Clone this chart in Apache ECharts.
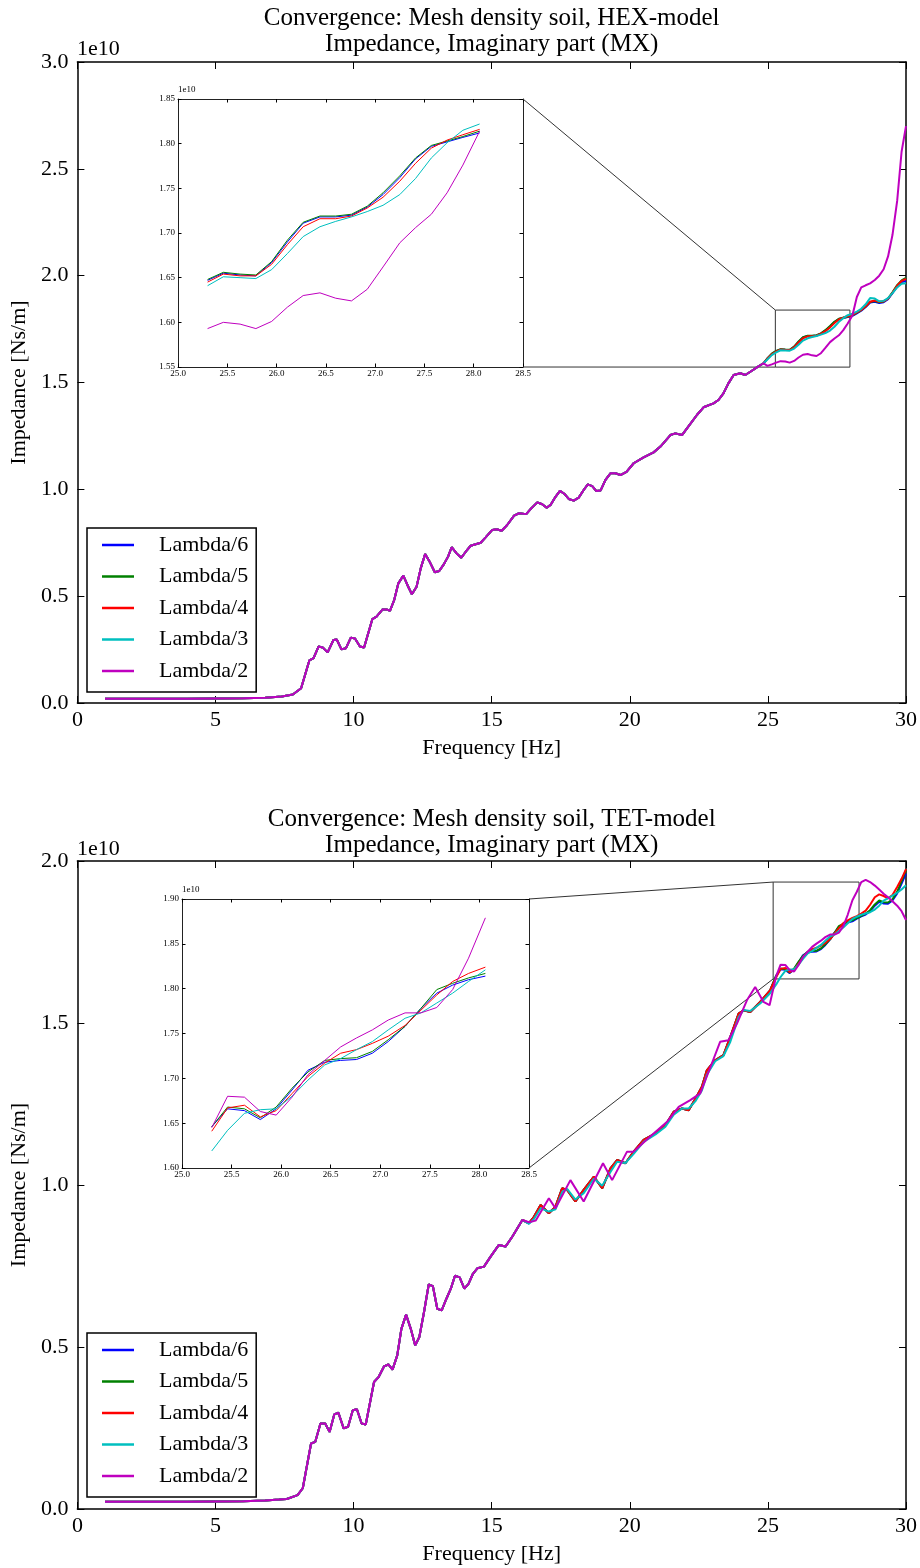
<!DOCTYPE html>
<html>
<head>
<meta charset="utf-8">
<script src="https://cdn.jsdelivr.net/npm/echarts@6/dist/echarts.min.js"></script>
<style>
  html, body { margin: 0; padding: 0; background: #fff; }
  #chart { width: 920px; height: 1568px; }
</style>
</head>
<body>
<div id="chart"></div>
<script>
// impedance values are in units of 1e10 Ns/m, frequency in Hz
const seriesNames = ['Lambda/6', 'Lambda/5', 'Lambda/4', 'Lambda/3', 'Lambda/2'];
const lineColors = ['#0000ff', '#008000', '#ff0000', '#00bfbf', '#bf00bf'];

const xTicks = [0, 30, 5];
const hexYTicks = [0, 3, 0.5];
const tetYTicks = [0, 2, 0.5];
const insetXTicks = [25, 28.5, 0.5];
const hexInsetYTicks = [1.55, 1.85, 0.05];
const tetInsetYTicks = [1.6, 1.9, 0.05];
const insetRange = [25.30, 28.06];

// ---------- HEX model ----------
const hexCommonFreq = [1.0, 2.0, 3.0, 4.0, 5.0, 6.0, 6.8, 7.4, 7.8, 8.1, 8.4, 8.55, 8.73, 8.88, 9.06, 9.27, 9.39, 9.56, 9.72, 9.90,
  10.05, 10.23, 10.38, 10.68, 10.83, 11.05, 11.19, 11.32, 11.47, 11.62, 11.80, 11.96, 12.11, 12.28, 12.43, 12.59, 12.77, 12.94, 13.10, 13.27,
  13.42, 13.55, 13.73, 13.90, 14.06, 14.24, 14.42, 14.60, 14.78, 15.02, 15.18, 15.36, 15.56, 15.81, 15.99, 16.25, 16.43, 16.65, 16.83, 16.99,
  17.13, 17.31, 17.47, 17.64, 17.79, 17.97, 18.15, 18.33, 18.48, 18.64, 18.79, 18.94, 19.12, 19.30, 19.48, 19.66, 19.88, 20.14, 20.50, 20.86,
  21.11, 21.47, 21.65, 21.89, 22.07, 22.43, 22.67, 23.03, 23.21, 23.39, 23.57, 23.76, 24.00, 24.18, 24.42, 24.60, 24.84];
const hexCommon = [0.020, 0.020, 0.020, 0.020, 0.021, 0.022, 0.025, 0.030, 0.040, 0.069, 0.200, 0.210, 0.264, 0.260, 0.237, 0.295, 0.297, 0.251, 0.256, 0.306,
  0.302, 0.264, 0.260, 0.393, 0.404, 0.438, 0.438, 0.432, 0.482, 0.560, 0.596, 0.549, 0.509, 0.544, 0.630, 0.697, 0.657, 0.612, 0.618, 0.650,
  0.685, 0.729, 0.700, 0.680, 0.708, 0.736, 0.743, 0.750, 0.775, 0.810, 0.813, 0.806, 0.833, 0.877, 0.888, 0.884, 0.911, 0.939, 0.930, 0.914,
  0.927, 0.965, 0.993, 0.978, 0.955, 0.947, 0.961, 0.997, 1.023, 1.015, 0.992, 0.994, 1.044, 1.075, 1.075, 1.067, 1.082, 1.122, 1.150, 1.173,
  1.200, 1.254, 1.262, 1.254, 1.285, 1.348, 1.384, 1.402, 1.418, 1.449, 1.496, 1.535, 1.543, 1.535, 1.555, 1.571, 1.590];

const hexTailFreq = [24.98, 25.14, 25.30, 25.46, 25.63, 25.79, 25.95, 26.11, 26.27, 26.44, 26.60, 26.76, 26.92, 27.08, 27.25, 27.41,
  27.57, 27.73, 27.89, 28.06, 28.22, 28.38, 28.54, 28.70, 28.87, 29.03, 29.19, 29.35, 29.51, 29.68, 29.84, 30.00];
const hexL6Tail = [1.612, 1.633, 1.647, 1.655, 1.653, 1.652, 1.667, 1.690, 1.711, 1.718, 1.718, 1.720, 1.729, 1.743, 1.762, 1.783,
  1.797, 1.802, 1.807, 1.812, 1.824, 1.836, 1.853, 1.874, 1.878, 1.872, 1.876, 1.890, 1.918, 1.950, 1.970, 1.975];
const hexL5Tail = [1.613, 1.635, 1.648, 1.656, 1.654, 1.653, 1.668, 1.692, 1.712, 1.719, 1.719, 1.721, 1.730, 1.745, 1.764, 1.784,
  1.798, 1.803, 1.808, 1.814, 1.827, 1.839, 1.856, 1.877, 1.881, 1.875, 1.879, 1.893, 1.922, 1.956, 1.978, 1.990];
const hexL4Tail = [1.611, 1.632, 1.645, 1.654, 1.652, 1.652, 1.665, 1.687, 1.707, 1.716, 1.716, 1.719, 1.728, 1.740, 1.758, 1.778,
  1.795, 1.804, 1.810, 1.816, 1.828, 1.840, 1.857, 1.878, 1.884, 1.878, 1.880, 1.892, 1.920, 1.953, 1.975, 1.985];
const hexL3Tail = [1.608, 1.628, 1.641, 1.651, 1.650, 1.649, 1.659, 1.677, 1.696, 1.707, 1.713, 1.718, 1.724, 1.731, 1.743, 1.761,
  1.784, 1.801, 1.815, 1.822, 1.832, 1.845, 1.866, 1.895, 1.893, 1.880, 1.882, 1.895, 1.918, 1.945, 1.962, 1.965];
const hexL2Tail = [1.578, 1.585, 1.593, 1.600, 1.598, 1.593, 1.601, 1.617, 1.630, 1.633, 1.627, 1.624, 1.637, 1.662, 1.689, 1.706,
  1.721, 1.745, 1.776, 1.814, 1.900, 1.945, 1.955, 1.964, 1.980, 2.000, 2.030, 2.090, 2.190, 2.350, 2.580, 2.700];
const hexZoomBox = [25.27, 27.97, 1.572, 1.839];

// ---------- TET model ----------
const tetCommonFreq = [1.0, 2.0, 3.0, 4.0, 5.0, 6.0, 6.8, 7.3, 7.58, 7.97, 8.16, 8.46, 8.61, 8.80, 8.97, 9.13, 9.30, 9.45, 9.64, 9.80,
  9.97, 10.12, 10.29, 10.44, 10.74, 10.91, 11.10, 11.26, 11.41, 11.58, 11.73, 11.90, 12.07, 12.23, 12.38, 12.55, 12.72, 12.87, 13.03, 13.19,
  13.36, 13.52, 13.67, 13.84, 14.01, 14.16, 14.32, 14.48, 14.72, 14.96, 15.26, 15.50, 15.75, 16.11];
const tetCommon = [0.022, 0.022, 0.022, 0.022, 0.023, 0.024, 0.026, 0.029, 0.031, 0.043, 0.064, 0.202, 0.207, 0.264, 0.264, 0.238, 0.292, 0.297, 0.249, 0.254,
  0.305, 0.308, 0.264, 0.261, 0.392, 0.408, 0.440, 0.446, 0.430, 0.474, 0.556, 0.600, 0.556, 0.505, 0.531, 0.608, 0.693, 0.688, 0.618, 0.613,
  0.649, 0.680, 0.720, 0.715, 0.680, 0.695, 0.726, 0.743, 0.748, 0.779, 0.815, 0.810, 0.841, 0.892];

const tetMidFreq = [16.35, 16.53, 16.77, 17.07, 17.31, 17.55, 17.73, 18.03, 18.33, 18.70, 19.00, 19.30, 19.54, 19.84, 20.14, 20.50,
  20.93, 21.29, 21.59, 21.89, 22.13, 22.37, 22.61, 22.79, 23.09, 23.39, 23.64, 23.94, 24.12, 24.36, 24.72, 25.08];
const tetMidFine = [0.882, 0.902, 0.938, 0.913, 0.933, 0.990, 0.985, 0.949, 0.985, 1.026, 0.990, 1.051, 1.077, 1.067, 1.103, 1.139,
  1.159, 1.185, 1.226, 1.236, 1.231, 1.265, 1.303, 1.354, 1.385, 1.401, 1.457, 1.529, 1.539, 1.534, 1.565, 1.601];
const tetMidL3 = [0.880, 0.895, 0.928, 0.918, 0.925, 0.978, 0.988, 0.955, 0.975, 1.020, 0.998, 1.040, 1.072, 1.068, 1.096, 1.133,
  1.156, 1.180, 1.217, 1.236, 1.236, 1.258, 1.292, 1.340, 1.382, 1.398, 1.442, 1.518, 1.540, 1.537, 1.560, 1.592];
const tetMidL2Freq = [16.35, 16.59, 17.07, 17.31, 17.85, 18.33, 19.03, 19.36, 19.90, 20.14, 20.74, 21.35, 21.77, 22.19, 22.55, 22.97,
  23.27, 23.57, 23.88, 24.24, 24.54, 24.84, 25.06];
const tetMidL2 = [0.885, 0.890, 0.959, 0.928, 1.015, 0.949, 1.067, 1.015, 1.103, 1.103, 1.150, 1.195, 1.241, 1.262, 1.283, 1.375,
  1.442, 1.447, 1.498, 1.570, 1.611, 1.565, 1.555];

const tetTailFreq = [25.30, 25.46, 25.63, 25.79, 25.95, 26.11, 26.27, 26.44, 26.60, 26.76, 26.92, 27.08, 27.25, 27.41, 27.57,
  27.73, 27.89, 28.06, 28.22, 28.38, 28.54, 28.70, 28.87, 29.03, 29.19, 29.35, 29.51, 29.68, 29.84, 30.00];
const tetL6Tail = [1.646, 1.666, 1.664, 1.654, 1.666, 1.687, 1.709, 1.718, 1.720, 1.721, 1.728, 1.741, 1.758, 1.778, 1.795,
  1.804, 1.810, 1.814, 1.822, 1.829, 1.835, 1.845, 1.862, 1.874, 1.869, 1.868, 1.878, 1.900, 1.930, 1.962];
const tetL5Tail = [1.646, 1.668, 1.666, 1.656, 1.668, 1.689, 1.707, 1.720, 1.722, 1.723, 1.730, 1.743, 1.758, 1.778, 1.799,
  1.806, 1.812, 1.817, 1.824, 1.831, 1.838, 1.848, 1.866, 1.878, 1.873, 1.872, 1.882, 1.905, 1.938, 1.972];
const tetL4Tail = [1.641, 1.667, 1.670, 1.657, 1.664, 1.683, 1.702, 1.717, 1.728, 1.732, 1.739, 1.747, 1.759, 1.776, 1.793,
  1.808, 1.817, 1.824, 1.830, 1.838, 1.847, 1.865, 1.888, 1.897, 1.892, 1.885, 1.895, 1.920, 1.945, 1.975];
const tetL3Tail = [1.619, 1.642, 1.661, 1.665, 1.666, 1.680, 1.698, 1.715, 1.722, 1.732, 1.741, 1.754, 1.767, 1.773, 1.784,
  1.795, 1.808, 1.821, 1.828, 1.834, 1.838, 1.842, 1.850, 1.862, 1.878, 1.885, 1.893, 1.902, 1.912, 1.925];
const tetL2Tail = [1.645, 1.680, 1.679, 1.663, 1.659, 1.679, 1.704, 1.720, 1.735, 1.745, 1.754, 1.765, 1.773, 1.773, 1.779,
  1.799, 1.834, 1.879, 1.905, 1.935, 1.942, 1.935, 1.924, 1.912, 1.899, 1.888, 1.876, 1.862, 1.845, 1.818];
const tetZoomBox = [25.19, 28.30, 1.636, 1.935];

const serif = "'Liberation Serif', 'Times New Roman', serif";
const pairs = (xs, ys) => xs.map((x, i) => [x, ys[i]]);
const inInset = p => p[0] >= insetRange[0] - 1e-6 && p[0] <= insetRange[1] + 1e-6;

const hexTails = [hexL6Tail, hexL5Tail, hexL4Tail, hexL3Tail, hexL2Tail];
const tetTails = [tetL6Tail, tetL5Tail, tetL4Tail, tetL3Tail, tetL2Tail];
const tetMids = [
  pairs(tetMidFreq, tetMidFine), pairs(tetMidFreq, tetMidFine), pairs(tetMidFreq, tetMidFine),
  pairs(tetMidFreq, tetMidL3), pairs(tetMidL2Freq, tetMidL2)
];

// layout of the four plotting areas
const grids = [
  { left: 76, top: 62, width: 831, height: 641 },
  { left: 178, top: 99, width: 345, height: 268, show: true, backgroundColor: '#fff', borderWidth: 0 },
  { left: 76, top: 861, width: 831, height: 648 },
  { left: 182, top: 899, width: 347, height: 269, show: true, backgroundColor: '#fff', borderWidth: 0 }
];

function xAxisFor(grid, pos, ticks, big) {
  return {
    type: 'value', gridIndex: grid, position: pos,
    min: ticks[0], max: ticks[1], interval: ticks[2],
    axisLine: { show: true, onZero: false, lineStyle: { color: big ? '#000' : '#222', width: big ? 1.5 : 1 } },
    axisTick: { show: true, inside: true, length: big ? 7 : 3.5, lineStyle: { color: '#000', width: 1 } },
    axisLabel: {
      show: pos === 'bottom', color: '#000', fontFamily: serif, fontSize: big ? 22 : 9,
      margin: big ? 6 : 2, formatter: v => big ? String(v) : v.toFixed(1)
    },
    splitLine: { show: false }
  };
}

function yAxisFor(grid, pos, ticks, big) {
  return {
    type: 'value', gridIndex: grid, position: pos,
    min: ticks[0], max: ticks[1], interval: ticks[2],
    axisLine: { show: true, onZero: false, lineStyle: { color: big ? '#000' : '#222', width: big ? 1.5 : 1 } },
    axisTick: { show: true, inside: true, length: big ? 7 : 3.5, lineStyle: { color: '#000', width: 1 } },
    axisLabel: {
      show: pos === 'left', color: '#000', fontFamily: serif, fontSize: big ? 22 : 9,
      margin: big ? 9 : 3, formatter: v => big ? v.toFixed(1) : v.toFixed(2)
    },
    splitLine: { show: false }
  };
}

const xAxes = [], yAxes = [];
[[xTicks, hexYTicks, true], [insetXTicks, hexInsetYTicks, false], [xTicks, tetYTicks, true], [insetXTicks, tetInsetYTicks, false]]
  .forEach(([xt, yt, big], g) => {
    xAxes.push(xAxisFor(g, 'bottom', xt, big), xAxisFor(g, 'top', xt, big));
    yAxes.push(yAxisFor(g, 'left', yt, big), yAxisFor(g, 'right', yt, big));
  });

const titleStyle = { fontFamily: serif, fontSize: 25, lineHeight: 26, color: '#000' };
const labelStyle = { fontFamily: serif, fontSize: 22, color: '#000' };
function decorateMain(g, title, titleGap) {
  Object.assign(xAxes[g * 2], { name: 'Frequency [Hz]', nameLocation: 'middle', nameGap: 34, nameTextStyle: labelStyle });
  Object.assign(xAxes[g * 2 + 1], { name: title, nameLocation: 'middle', nameGap: titleGap, nameTextStyle: titleStyle });
  Object.assign(yAxes[g * 2], { name: 'Impedance [Ns/m]', nameLocation: 'middle', nameGap: 41, nameRotate: 90, nameTextStyle: labelStyle });
}
decorateMain(0, 'Convergence: Mesh density soil, HEX-model\nImpedance, Imaginary part (MX)', 5);
decorateMain(2, 'Convergence: Mesh density soil, TET-model\nImpedance, Imaginary part (MX)', 3);
[1, 3].forEach(g => Object.assign(yAxes[g * 2], {
  name: '1e10', nameLocation: 'end', nameGap: 1,
  nameTextStyle: { fontFamily: serif, fontSize: 9, color: '#000', align: 'left', verticalAlign: 'bottom' }
}));

function lineSeries(k, data, g, big, box) {
  const s = {
    type: 'line', name: seriesNames[k], data,
    xAxisIndex: g * 2, yAxisIndex: g * 2,
    symbol: 'none', silent: true, z: big ? 2 : 4,
    lineStyle: { color: lineColors[k], width: big ? 2 : 1 },
    itemStyle: { color: lineColors[k] }
  };
  if (box) {
    s.markArea = {
      silent: true,
      itemStyle: { color: 'rgba(0,0,0,0)', borderColor: '#333', borderWidth: 1 },
      data: [[{ coord: [box[0], box[2]] }, { coord: [box[1], box[3]] }]]
    };
  }
  return s;
}

const series = [];
seriesNames.forEach((n, k) => series.push(lineSeries(k,
  pairs(hexCommonFreq, hexCommon).concat(pairs(hexTailFreq, hexTails[k])), 0, true, k === 4 ? hexZoomBox : null)));
seriesNames.forEach((n, k) => series.push(lineSeries(k, pairs(hexTailFreq, hexTails[k]).filter(inInset), 1, false)));
seriesNames.forEach((n, k) => series.push(lineSeries(k,
  pairs(tetCommonFreq, tetCommon).concat(tetMids[k], pairs(tetTailFreq, tetTails[k])), 2, true, k === 4 ? tetZoomBox : null)));
seriesNames.forEach((n, k) => series.push(lineSeries(k, pairs(tetTailFreq, tetTails[k]).filter(inInset), 3, false)));

function legendAt(top) {
  return {
    data: seriesNames, orient: 'vertical', left: 87, top,
    icon: 'rect', itemWidth: 32, itemHeight: 2.5, itemGap: 9.5,
    padding: [6, 8, 10, 15], borderColor: '#000', borderWidth: 1.5, backgroundColor: '#fff',
    selectedMode: false,
    textStyle: { fontFamily: serif, fontSize: 22, lineHeight: 22, color: '#000', padding: [0, 0, 0, 20] }
  };
}

const offsetLabel = top => ({
  text: '1e10', left: 77, top, padding: 0,
  textStyle: { fontFamily: serif, fontSize: 22, fontWeight: 'normal', color: '#000' }
});

const chart = echarts.init(document.getElementById('chart'), null, { renderer: 'canvas' });
chart.setOption({
  animation: false,
  backgroundColor: '#fff',
  title: [offsetLabel(38), offsetLabel(838)],
  legend: [legendAt(528), legendAt(1333)],
  grid: grids,
  xAxis: xAxes,
  yAxis: yAxes,
  series
});

// connector lines from inset corners to the zoom box, placed through the axes
function connectors(mainIdx, insetIdx, box, insetX, insetY) {
  const a1 = chart.convertToPixel({ seriesIndex: insetIdx }, [insetX[1], insetY[1]]);
  const b1 = chart.convertToPixel({ seriesIndex: mainIdx }, [box[0], box[3]]);
  const a2 = chart.convertToPixel({ seriesIndex: insetIdx }, [insetX[1], insetY[0]]);
  const b2 = chart.convertToPixel({ seriesIndex: mainIdx }, [box[0], box[2]]);
  return [[a1, b1], [a2, b2]].map(([a, b]) => ({
    type: 'line', silent: true, z: 1,
    shape: { x1: a[0], y1: a[1], x2: b[0], y2: b[1] },
    style: { stroke: '#333', lineWidth: 1 }
  }));
}
chart.setOption({
  graphic: connectors(4, 5, hexZoomBox, insetXTicks, hexInsetYTicks)
    .concat(connectors(14, 15, tetZoomBox, insetXTicks, tetInsetYTicks))
});
</script>
</body>
</html>
